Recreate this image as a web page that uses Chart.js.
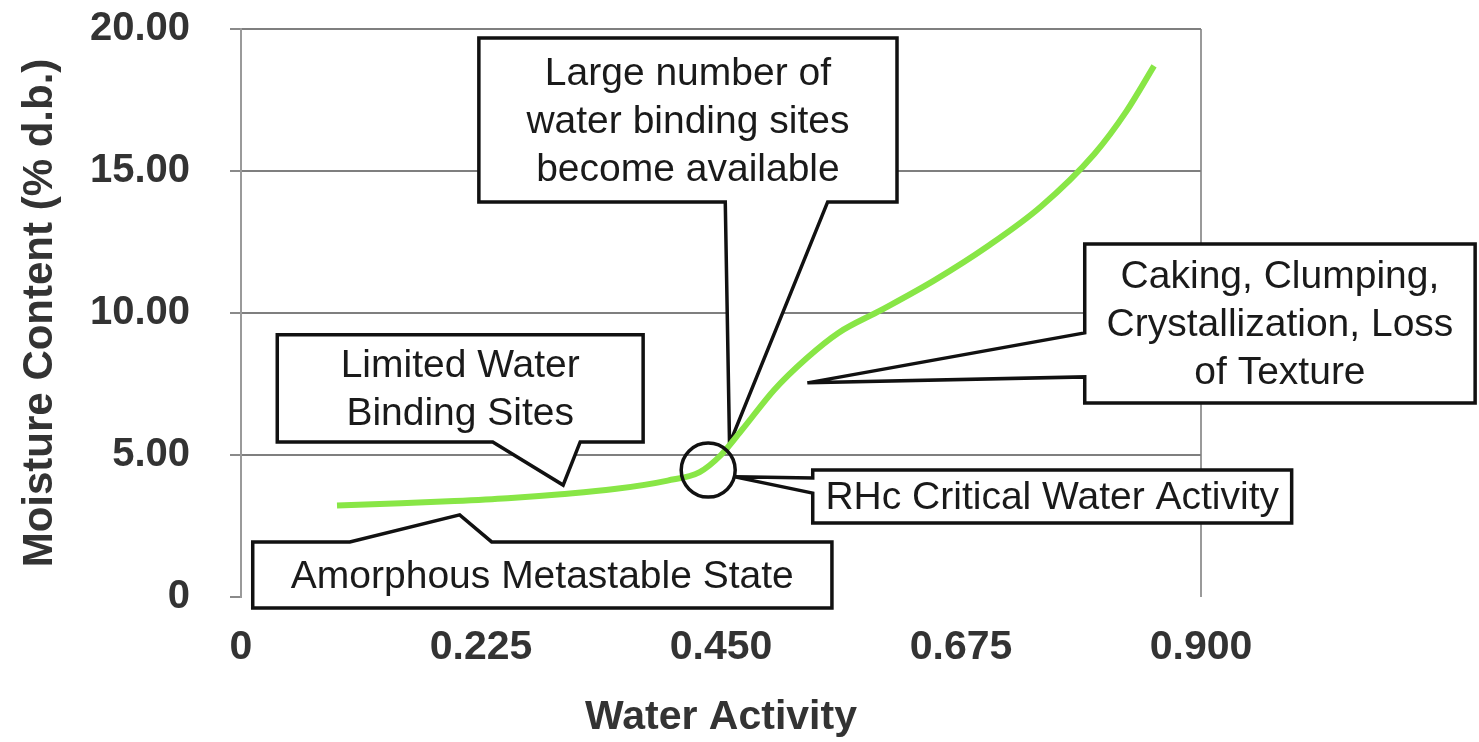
<!DOCTYPE html>
<html>
<head>
<meta charset="utf-8">
<script src="https://cdn.jsdelivr.net/npm/chart.js@4.4.1/dist/chart.umd.min.js"></script>
<style>
  html, body { margin: 0; padding: 0; background: #fff; }
  #wrap { width: 1479px; height: 742px; }
</style>
</head>
<body>
<div id="wrap"><canvas id="grafico"></canvas></div>
<script>
// datos
const waterActivity = [0.09, 0.15, 0.20, 0.25, 0.30, 0.35, 0.40, 0.43, 0.45, 0.47, 0.50, 0.53, 0.56, 0.60, 0.65, 0.70, 0.75, 0.80, 0.83, 0.856];
const moisture = [3.22, 3.30, 3.38, 3.48, 3.62, 3.80, 4.10, 4.40, 5.00, 5.90, 7.30, 8.40, 9.30, 10.10, 11.15, 12.35, 13.75, 15.60, 17.10, 18.70];

const xTickValues = [0, 0.225, 0.45, 0.675, 0.9];
const xTickLabels = ['0', '0.225', '0.450', '0.675', '0.900'];
const yTickValues = [0, 5, 10, 15, 20];
const yTickLabels = ['0', '5.00', '10.00', '15.00', '20.00'];

// cajas de texto (en coordenadas de datos)
const callouts = [
  { lines: ['Large number of', 'water binding sites', 'become available'],
    box: [0.223, 19.68, 0.615, 13.91], edge: 'bottom', base: [0.454, 0.550], tip: [0.458, 5.39] },
  { lines: ['Caking, Clumping,', 'Crystallization, Loss', 'of Texture'],
    box: [0.791, 12.43, 1.157, 6.83], edge: 'left', base: [9.30, 7.75], tip: [0.531, 7.54] },
  { lines: ['Limited Water', 'Binding Sites'],
    box: [0.034, 9.23, 0.377, 5.46], edge: 'bottom', base: [0.236, 0.318], tip: [0.302, 3.94] },
  { lines: ['Amorphous Metastable State'],
    box: [0.011, 1.94, 0.554, -0.39], edge: 'top', base: [0.102, 0.235], tip: [0.205, 2.89] },
  { lines: ['RHc Critical Water Activity'],
    box: [0.536, 4.47, 0.985, 2.61], edge: 'left', base: [4.19, 3.66], tip: [0.463, 4.23] }
];
const criticalPoint = [0.438, 4.47];

const puntos = waterActivity.map((x, i) => ({ x: x, y: moisture[i] }));

function drawCallout(ctx, xs, ys, c) {
  const L = xs.getPixelForValue(c.box[0]), T = ys.getPixelForValue(c.box[1]);
  const R = xs.getPixelForValue(c.box[2]), B = ys.getPixelForValue(c.box[3]);
  const tx = xs.getPixelForValue(c.tip[0]), ty = ys.getPixelForValue(c.tip[1]);
  const horiz = c.edge === 'top' || c.edge === 'bottom';
  const sc = horiz ? xs : ys;
  const b = c.base.map(v => sc.getPixelForValue(v)).sort((a, b) => a - b);
  const pa = b[0], pb = b[1];
  ctx.beginPath();
  ctx.moveTo(L, T);
  if (c.edge === 'top') { ctx.lineTo(pa, T); ctx.lineTo(tx, ty); ctx.lineTo(pb, T); }
  ctx.lineTo(R, T);
  if (c.edge === 'right') { ctx.lineTo(R, pa); ctx.lineTo(tx, ty); ctx.lineTo(R, pb); }
  ctx.lineTo(R, B);
  if (c.edge === 'bottom') { ctx.lineTo(pb, B); ctx.lineTo(tx, ty); ctx.lineTo(pa, B); }
  ctx.lineTo(L, B);
  if (c.edge === 'left') { ctx.lineTo(L, pb); ctx.lineTo(tx, ty); ctx.lineTo(L, pa); }
  ctx.closePath();
  ctx.fillStyle = '#fff';
  ctx.fill();
  ctx.lineWidth = 3.5;
  ctx.lineJoin = 'miter';
  ctx.strokeStyle = '#111';
  ctx.stroke();

  ctx.fillStyle = '#1a1a1a';
  ctx.font = '39px "Liberation Sans", Arial, sans-serif';
  ctx.textAlign = 'center';
  ctx.textBaseline = 'middle';
  const lh = 48;
  const cx = (L + R) / 2, cy = (T + B) / 2;
  c.lines.forEach((t, i) => {
    ctx.fillText(t, cx, cy + (i - (c.lines.length - 1) / 2) * lh + 2);
  });
}

const calloutPlugin = {
  id: 'callouts',
  beforeDatasetsDraw(chart) {
    const ctx = chart.ctx;
    ctx.save();
    callouts.forEach(c => drawCallout(ctx, chart.scales.x, chart.scales.y, c));
    ctx.restore();
  },
  afterDatasetsDraw(chart) {
    const ctx = chart.ctx;
    const px = chart.scales.x.getPixelForValue(criticalPoint[0]);
    const py = chart.scales.y.getPixelForValue(criticalPoint[1]);
    ctx.save();
    ctx.beginPath();
    ctx.arc(px, py, 27, 0, Math.PI * 2);
    ctx.lineWidth = 3.5;
    ctx.strokeStyle = '#111';
    ctx.stroke();
    ctx.restore();
  }
};

const fuenteEje = { family: '"Liberation Sans", Arial, sans-serif', weight: 'bold' };

new Chart(document.getElementById('grafico'), {
  type: 'line',
  data: {
    datasets: [{
      data: puntos,
      borderColor: '#88e646',
      borderWidth: 6,
      pointRadius: 0,
      fill: false,
      cubicInterpolationMode: 'monotone'
    }]
  },
  options: {
    responsive: true,
    maintainAspectRatio: false,
    animation: false,
    layout: { padding: { top: 29, right: 278, left: 0, bottom: 0 } },
    plugins: {
      legend: { display: false },
      title: { display: false },
      tooltip: { enabled: false }
    },
    scales: {
      x: {
        type: 'linear',
        min: 0,
        max: 0.9,
        afterFit: s => { s.height = 145; s.paddingLeft = 0; s.paddingRight = 0; },
        afterBuildTicks: s => { s.ticks = xTickValues.map(v => ({ value: v })); },
        grid: {
          drawTicks: false,
          lineWidth: 2,
          color: c => (c.tick && c.tick.value === 0.9) ? '#9a9a9a' : 'rgba(0,0,0,0)'
        },
        border: { display: false },
        ticks: {
          padding: 26,
          maxRotation: 0,
          autoSkip: false,
          color: '#333',
          font: Object.assign({ size: 41 }, fuenteEje),
          callback: (v, i) => xTickLabels[i]
        },
        title: {
          display: true,
          text: 'Water Activity',
          color: '#333',
          font: Object.assign({ size: 41, lineHeight: 1 }, fuenteEje),
          padding: { top: 0, bottom: 4 }
        }
      },
      y: {
        min: 0,
        max: 20,
        afterFit: s => { s.width = 241; s.paddingTop = 0; s.paddingBottom = 0; },
        afterBuildTicks: s => { s.ticks = yTickValues.map(v => ({ value: v })); },
        grid: {
          lineWidth: 2,
          tickLength: 11,
          tickColor: '#8a8a8a',
          color: c => (c.tick && c.tick.value === 0) ? 'rgba(0,0,0,0)' : '#7f7f7f'
        },
        border: { color: '#9a9a9a', width: 2 },
        ticks: {
          padding: 40,
          color: '#333',
          font: Object.assign({ size: 40 }, fuenteEje),
          callback: (v, i) => yTickLabels[i]
        },
        title: {
          display: true,
          text: 'Moisture Content (% d.b.)',
          color: '#333',
          font: Object.assign({ size: 42, lineHeight: 1 }, fuenteEje),
          padding: { top: 19, bottom: 0 }
        }
      }
    }
  },
  plugins: [calloutPlugin]
});
</script>
</body>
</html>
